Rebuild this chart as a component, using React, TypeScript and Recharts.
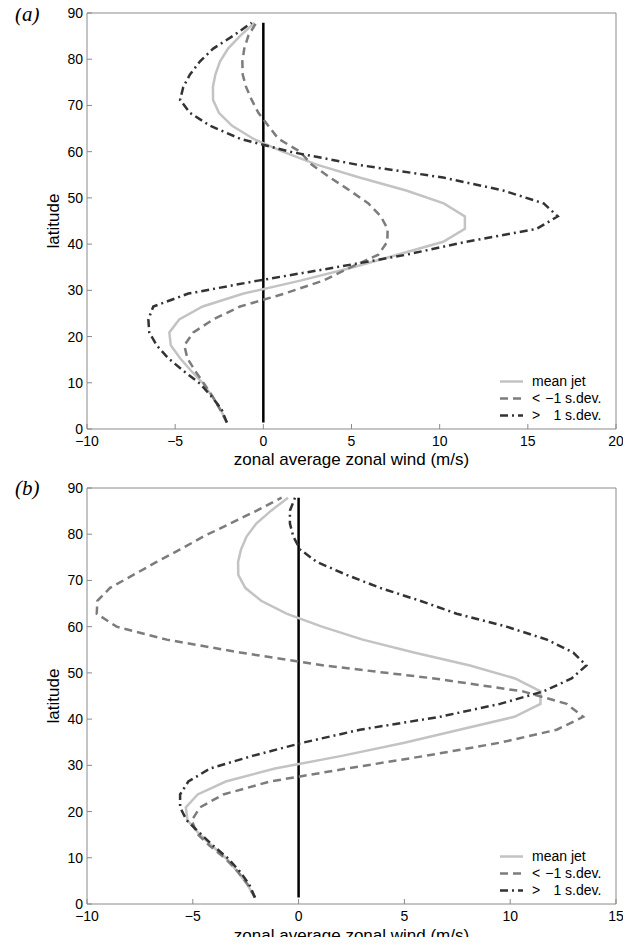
import React from 'react';
import { LineChart, Line, XAxis, YAxis, ReferenceLine, Legend, Label } from 'recharts';

// Gaussian-grid latitudes (deg N) at which the zonal-mean wind is sampled
const LATITUDES = [
  1.4, 4.2, 7.0, 9.8, 12.6, 15.3, 18.1, 20.9, 23.7, 26.5, 29.3, 32.1, 34.9, 37.7, 40.5, 43.3,
  46.0, 48.8, 51.6, 54.4, 57.2, 60.0, 62.8, 65.6, 68.4, 71.2, 74.0, 76.7, 79.5, 82.3, 85.1, 87.9,
];

// Climatological mean jet (m/s)
const MEAN_JET = [
  -2.07, -2.42, -2.89, -3.4, -4.1, -4.72, -5.25, -5.33, -4.77, -3.44, -1.12, 2.1, 5.0, 7.6, 10.2, 11.43,
  11.43, 10.23, 8.1, 5.45, 3.03, 1.1, -0.57, -1.77, -2.52, -2.85, -2.86, -2.72, -2.46, -2.0, -1.3, -0.5,
];

// Panel (a): composites below -1 and above +1 standard deviation
const WEAK_A = [
  -2.07, -2.45, -2.87, -3.36, -3.87, -4.31, -4.48, -3.97, -2.84, -1.32, 1.2, 3.4, 4.9, 6.52, 7.03, 7.05,
  6.66, 5.96, 4.9, 3.78, 2.74, 2.08, 0.85, 0.28, -0.28, -0.66, -0.98, -1.17, -1.19, -1.08, -0.85, -0.4,
];
const STRONG_A = [
  -2.07, -2.36, -2.93, -3.59, -4.54, -5.39, -6.05, -6.47, -6.52, -6.24, -4.25, -0.3, 4.0, 8.1, 11.5, 15.5,
  16.7, 15.9, 13.6, 10.2, 5.3, 1.5, -1.32, -3.02, -4.16, -4.72, -4.54, -4.16, -3.6, -2.84, -1.7, -0.66,
];

// Panel (b): composites below -1 and above +1 standard deviation
const WEAK_B = [
  -2.06, -2.4, -2.87, -3.45, -4.2, -4.82, -5.05, -4.66, -3.56, -1.35, 2.27, 6.05, 9.52, 12.2, 13.45, 12.67,
  10.6, 6.4, 1.2, -2.77, -6.23, -8.6, -9.54, -9.51, -8.91, -7.81, -6.71, -5.6, -4.5, -3.24, -1.98, -0.8,
];
const STRONG_B = [
  -2.06, -2.33, -2.77, -3.32, -4.03, -4.66, -5.29, -5.6, -5.6, -5.21, -4.19, -2.14, 0.2, 2.9, 6.68, 9.52,
  11.57, 12.9, 13.6, 12.98, 11.73, 9.83, 7.47, 5.74, 3.85, 2.27, 0.86, 0.07, -0.25, -0.41, -0.41, -0.17,
];

const X_TICKS_A = [-10, -5, 0, 5, 10, 15, 20];
const X_TICKS_B = [-10, -5, 0, 5, 10, 15];
const LAT_TICKS = [0, 10, 20, 30, 40, 50, 60, 70, 80, 90];

const X_TITLE = 'zonal average zonal wind (m/s)';
const Y_TITLE = 'latitude';

const SERIES = [
  { key: 'mean', sign: '', num: '', label: 'mean jet', color: '#c3c3c3', dash: undefined as string | undefined },
  { key: 'weak', sign: '<', num: '\u22121', label: 's.dev.', color: '#7c7c7c', dash: '8 5' },
  { key: 'strong', sign: '>', num: '1', label: 's.dev.', color: '#333333', dash: '8 4 2 4' },
];

const SANS = '"Liberation Sans", Arial, Helvetica, sans-serif';
const AXIS_GREY = '#8a8a8a';
const LINE_W = 2.5;

// plot box inside each chart (chart-local pixels)
const PLOT_TOP = 15;
const PLOT_BOTTOM = 431;

const fmt = (v: number) => (v < 0 ? `\u2212${-v}` : `${v}`);

function LegendBox() {
  return (
    <div style={{ fontFamily: SANS, fontSize: 14, color: '#000', lineHeight: '17px' }}>
      {SERIES.map((s) => (
        <div key={s.key} style={{ display: 'flex', alignItems: 'center', height: 17, whiteSpace: 'pre' }}>
          <svg width={23} height={17} style={{ display: 'block' }}>
            <line x1={0} y1={8.5} x2={23} y2={8.5} stroke={s.color} strokeWidth={LINE_W} strokeDasharray={s.dash} />
          </svg>
          <span style={{ marginLeft: 9 }}>
            {s.sign ? (
              <>
                {s.sign}
                <span style={{ display: 'inline-block', width: 21, textAlign: 'right' }}>{s.num}</span> {s.label}
              </>
            ) : (
              s.label
            )}
          </span>
        </div>
      ))}
    </div>
  );
}

type PanelProps = {
  weak: number[];
  strong: number[];
  xTicks: number[];
  height: number;
  titleOffset: number;
};

function Panel({ weak, strong, xTicks, height, titleOffset }: PanelProps) {
  const data = LATITUDES.map((lat, i) => ({ lat, mean: MEAN_JET[i], weak: weak[i], strong: strong[i] }));
  const xDomain: [number, number] = [xTicks[0], xTicks[xTicks.length - 1]];
  const latDomain: [number, number] = [LAT_TICKS[0], LAT_TICKS[LAT_TICKS.length - 1]];
  const axisStroke = { stroke: AXIS_GREY, strokeWidth: 1 };
  const tickStyle = { fill: '#000', fontSize: 14, fontFamily: SANS };

  return (
    <LineChart
      width={615}
      height={height}
      data={data}
      layout="vertical"
      margin={{ top: PLOT_TOP - 1, right: 6, bottom: 0, left: 0 }}
    >
      <XAxis
        type="number"
        domain={xDomain}
        ticks={xTicks}
        interval={0}
        allowDataOverflow
        height={height - PLOT_BOTTOM}
        tickSize={-5}
        tickMargin={12}
        tickFormatter={fmt}
        axisLine={axisStroke}
        tickLine={axisStroke}
        tick={tickStyle}
      >
        <Label
          value={X_TITLE}
          position="insideBottom"
          offset={titleOffset}
          style={{ fontFamily: SANS, fontSize: 17, fill: '#000' }}
        />
      </XAxis>
      <XAxis
        xAxisId="top"
        orientation="top"
        type="number"
        domain={xDomain}
        ticks={xTicks}
        interval={0}
        allowDataOverflow
        height={1}
        tickSize={-5}
        tick={false}
        axisLine={axisStroke}
        tickLine={axisStroke}
      />
      <YAxis
        type="number"
        dataKey="lat"
        reversed
        domain={latDomain}
        ticks={LAT_TICKS}
        interval={0}
        allowDataOverflow
        width={79}
        tickSize={-5}
        tickMargin={9}
        axisLine={axisStroke}
        tickLine={axisStroke}
        tick={tickStyle}
        label={{
          content: (p: any) => {
            const vb = p.viewBox || {};
            const cx = 45.5;
            const cy = (vb.y ?? PLOT_TOP) + (vb.height ?? PLOT_BOTTOM - PLOT_TOP) / 2;
            return (
              <text
                x={cx}
                y={cy}
                transform={`rotate(-90, ${cx}, ${cy})`}
                textAnchor="middle"
                dominantBaseline="central"
                style={{ fontFamily: SANS, fontSize: 17, fill: '#000' }}
              >
                {Y_TITLE}
              </text>
            );
          },
        }}
      />
      <YAxis
        yAxisId="right"
        orientation="right"
        type="number"
        dataKey="lat"
        reversed
        domain={latDomain}
        ticks={LAT_TICKS}
        interval={0}
        allowDataOverflow
        width={1}
        tickSize={-5}
        tick={false}
        axisLine={axisStroke}
        tickLine={axisStroke}
      />
      <ReferenceLine
        segment={[
          { x: 0, y: LATITUDES[0] },
          { x: 0, y: LATITUDES[LATITUDES.length - 1] },
        ]}
        stroke="#000"
        strokeWidth={LINE_W}
      />
      {SERIES.map((s) => (
        <Line
          key={s.key}
          dataKey={s.key}
          name={s.key}
          type="linear"
          stroke={s.color}
          strokeWidth={LINE_W}
          strokeDasharray={s.dash}
          dot={false}
          activeDot={false}
          isAnimationActive={false}
        />
      ))}
      <Legend
        layout="horizontal"
        align="center"
        verticalAlign="middle"
        wrapperStyle={{ left: 492, top: PLOT_BOTTOM - 56, width: 120, height: 51 }}
        content={() => <LegendBox />}
      />
    </LineChart>
  );
}

function PanelTag({ text, top }: { text: string; top: number }) {
  return (
    <svg width={60} height={30} style={{ position: 'absolute', left: 0, top, overflow: 'visible' }}>
      <text x={7} y={13} style={{ fontFamily: '"Liberation Serif", "Times New Roman", serif', fontStyle: 'italic', fontSize: 21, fill: '#000' }}>
        {text}
      </text>
    </svg>
  );
}

export default function App() {
  return (
    <div style={{ position: 'relative', width: 615, height: 937, marginBottom: -8 }}>
      <div style={{ position: 'absolute', left: 0, top: -10 }}>
        <Panel weak={WEAK_A} strong={STRONG_A} xTicks={X_TICKS_A} height={480} titleOffset={13} />
      </div>
      <div style={{ position: 'absolute', left: 0, top: 465 }}>
        <Panel weak={WEAK_B} strong={STRONG_B} xTicks={X_TICKS_B} height={472} titleOffset={4} />
      </div>
      <PanelTag text="(a)" top={0} />
      <PanelTag text="(b)" top={474} />
    </div>
  );
}
